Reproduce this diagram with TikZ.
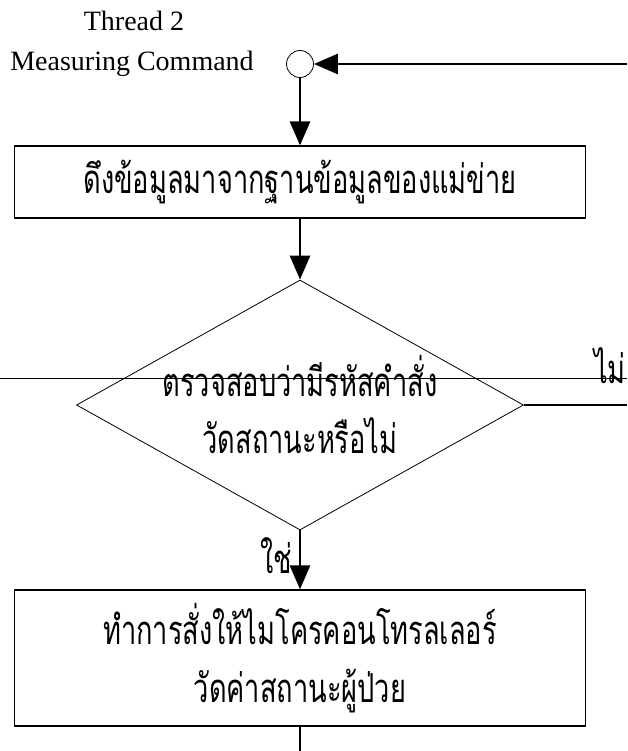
\documentclass[tikz,border=0pt]{standalone}
\usepackage{fontspec}
\setmainfont{Liberation Serif}
\newfontfamily\thaifont[Script=Thai, FakeStretch=0.68]{Loma}
\usetikzlibrary{shapes.geometric, arrows.meta}

\tikzset{
    stepbox/.style={draw, line width=1.2pt, minimum width=571pt, inner sep=0pt,
        align=center, font=\thaifont\fontsize{40}{58}\selectfont},
    decision/.style={diamond, draw, line width=0.8pt, inner sep=0pt,
        minimum width=447pt, minimum height=250pt},
    thaitext/.style={align=center, font=\thaifont\fontsize{40}{57}\selectfont},
    flow/.style={line width=2.8pt, -{Triangle[length=24pt, width=20pt]}},
    label/.style={font=\fontsize{28}{30}\selectfont}
}

\begin{document}
\begin{tikzpicture}[x=1pt, y=-1pt]
    \useasboundingbox (0, 0) rectangle (627, 751);

    \node [label] (thread) at (134, 21) {Thread 2};
    \node [label] (cmd) at (132, 64) {Measuring Command};
    \node [circle, draw, line width=0.8pt, minimum size=27pt, inner sep=0pt] (start) at (300, 64) {};

    \node [stepbox, minimum height=72pt] (fetch) at (300, 182) {ดึงข้อมูลมาจากฐานข้อมูลของแม่ข่าย};
    \node [decision] (check) at (300, 405) {};
    \node [thaitext] (checktext) at (300, 405) {ตรวจสอบว่ามีรหัสคำสั่ง\\วัดสถานะหรือไม่};
    \node [stepbox, minimum height=136pt] (order) at (300, 658) {ทำการสั่งให้ไมโครคอนโทรลเลอร์\\วัดค่าสถานะผู้ป่วย};

    \coordinate (loopin) at (627, 64);
    \coordinate (loopout) at (627, 405);
    \coordinate (exit) at (300, 751);

    \draw [flow] (loopin) -- (start);
    \draw [flow] (start) -- (fetch);
    \draw [flow] (fetch) -- (check);
    \draw [flow] (check) -- (order) node [pos=0.42, left=3pt, thaitext] (yes) {ใช่};
    \draw [line width=2.8pt] (check.east) -- (loopout);
    \draw [line width=2.8pt] (order) -- (exit);

    \draw [line width=0.8pt] (0, 378) -- (627, 378);
    \node [thaitext, anchor=east, inner sep=1pt] (no) at (627, 366) {ไม่};
\end{tikzpicture}
\end{document}
